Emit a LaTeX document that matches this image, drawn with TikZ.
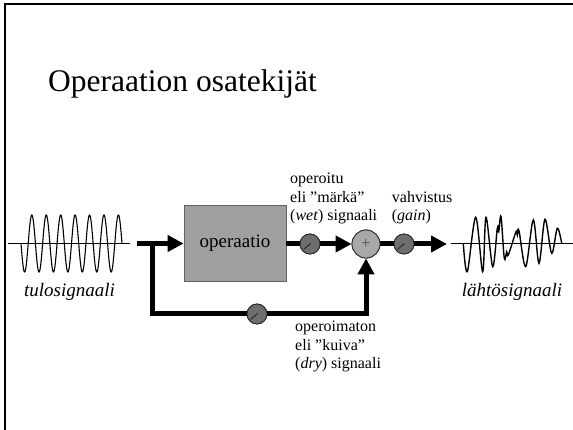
\documentclass[tikz,border=0pt]{standalone}
\usepackage{fontspec}
\setmainfont{Liberation Serif}
\usetikzlibrary{arrows.meta,calc}
\definecolor{boxgray}{HTML}{A0A0A0}
\definecolor{boxedge}{HTML}{606060}
\definecolor{knobgray}{HTML}{6E6E6E}
\definecolor{sumgray}{HTML}{A8A8A8}
\begin{document}
\begin{tikzpicture}[x=1pt,y=-1pt,
  sig/.style={line width=5pt},
  tipped/.style={-{Triangle[length=16pt,width=16pt]}},
  knob/.style={circle,draw=black!85,line width=0.8pt,fill=knobgray,
    minimum size=20pt,inner sep=0pt,
    path picture={\draw[line width=0.9pt]
      ([shift={(0.5pt,0.5pt)}]path picture bounding box.center) -- ++(-7pt,-6pt);}},
  sumnode/.style={circle,draw=black!85,line width=0.8pt,fill=sumgray,
    minimum size=28pt,inner sep=0pt,text=black!70,font=\fontsize{16}{18}\selectfont},
  opbox/.style={draw=boxedge,line width=0.8pt,fill=boxgray,
    minimum width=102pt,minimum height=76pt,inner sep=0pt,
    font=\fontsize{19}{22}\selectfont},
  lbl/.style={align=left,inner sep=0pt,font=\fontsize{16}{18.4}\selectfont},
  siglbl/.style={inner sep=0pt,font=\fontsize{19}{22}\selectfont\itshape},
  wave/.style={line width=1.1pt},
  axis/.style={line width=0.9pt}
]
\useasboundingbox (0,0) rectangle (573,430);
% frame
\draw[line width=2pt] (573,4.5) -- (4.5,4.5) -- (4.5,430);
% title
\node[anchor=base west,inner sep=0pt,font=\fontsize{31.5}{36}\selectfont] (title) at (48,91.5) {Operaation osatekijät};

% input signal
\coordinate (inaxL) at (8,243.5);
\coordinate (inaxR) at (130,243.5);
\draw[axis] (inaxL) -- (inaxR);
\draw[wave] plot[domain=21:122,samples=400] (\x,{243.5+28.5*sin(24.948*(\x-21))});
\node[siglbl,anchor=base] (inlbl) at (69.5,296.5) {tulosignaali};

% blocks
\node[opbox] (op) at (235,243.5) {operaatio};
\node[knob] (k1) at (310,244) {};
\node[sumnode] (s) at (366,244) {+};
\node[knob] (k2) at (404,244) {};
\node[knob] (k3) at (257,314) {};

\coordinate (in) at (137,243.5);
\coordinate (br) at (152,243.5);
\coordinate (outtip) at (447,244);

\draw[sig,tipped] (in) -- (op.west);
\draw[sig] (op.east |- k1) -- (k1);
\draw[sig,tipped] (k1) -- (s.west);
\draw[sig] (s) -- (k2);
\draw[sig,tipped] (k2) -- (outtip);
\draw[sig] (br) -- (br |- k3) -- (k3);
\draw[sig,tipped] (k3) -- (s |- k3) -- (s.south);
% redraw nodes above lines
\node[knob] at (k1) {};
\node[sumnode] at (s) {+};
\node[knob] at (k2) {};
\node[knob] at (k3) {};

% output signal
\coordinate (outaxL) at (451,243.3);
\coordinate (outaxR) at (573,243.3);
\draw[axis] (outaxL) -- (outaxR);
\draw[wave,line width=1.4pt] plot[smooth,tension=0.55] coordinates {
(463.3,243.3) (467.3,271.7) (475.7,217.3) (482.7,271.7) (486,217.3)
(492.7,266.7) (497.3,228.3) (498.7,231.7) (501,216.7) (504.3,258.3)
(506.7,251.7) (508.3,255) (516,231.7) (517.3,235) (519,230.7)
(525.7,266.7) (533.3,220) (539,263.3) (545,219.3) (551.7,253.3)
(557.3,228.3) (561.7,243.3)};
\node[siglbl,anchor=base] (outlbl) at (512,296.7) {lähtösignaali};

% labels (base anchor = last line)
\node[lbl,anchor=base west] (wetlbl) at (290,220.5) {operoitu\\eli ”märkä”\\(\textit{wet}) signaali};
\node[lbl,anchor=base west] (gainlbl) at (391.7,220.5) {vahvistus\\(\textit{gain})};
\node[lbl,anchor=base west] (drylbl) at (295,368.5) {operoimaton\\eli ”kuiva”\\(\textit{dry}) signaali};
\end{tikzpicture}
\end{document}
